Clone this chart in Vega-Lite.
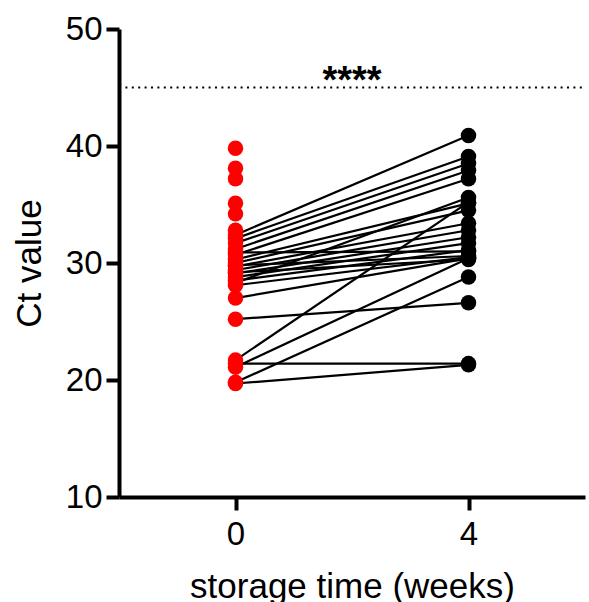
{
  "$schema": "https://vega.github.io/schema/vega-lite/v6.json",
  "width": 466,
  "height": 468,
  "autosize": {"type": "none"},
  "padding": {"left": 119, "top": 29, "right": 4, "bottom": 105},
  "background": "white",
  "config": {
    "view": {"stroke": null},
    "font": "Liberation Sans",
    "axis": {
      "grid": false,
      "domainColor": "black",
      "domainWidth": 4,
      "tickColor": "black",
      "tickWidth": 4,
      "tickSize": 13,
      "labelColor": "black",
      "labelFont": "Liberation Sans",
      "labelFontSize": 33,
      "titleColor": "black",
      "titleFont": "Liberation Sans",
      "titleFontSize": 35,
      "titleFontWeight": "normal"
    }
  },
  "datasets": {
    "ct": [
      {"id": 1, "week": 0, "ct": 32.4}, {"id": 1, "week": 4, "ct": 40.9},
      {"id": 2, "week": 0, "ct": 32.1}, {"id": 2, "week": 4, "ct": 39.1},
      {"id": 3, "week": 0, "ct": 31.7}, {"id": 3, "week": 4, "ct": 38.5},
      {"id": 4, "week": 0, "ct": 31.2}, {"id": 4, "week": 4, "ct": 37.9},
      {"id": 5, "week": 0, "ct": 30.7}, {"id": 5, "week": 4, "ct": 37.2},
      {"id": 6, "week": 0, "ct": 30.3}, {"id": 6, "week": 4, "ct": 35.1},
      {"id": 7, "week": 0, "ct": 30.0}, {"id": 7, "week": 4, "ct": 34.5},
      {"id": 8, "week": 0, "ct": 29.7}, {"id": 8, "week": 4, "ct": 33.4},
      {"id": 9, "week": 0, "ct": 29.4}, {"id": 9, "week": 4, "ct": 32.8},
      {"id": 10, "week": 0, "ct": 29.1}, {"id": 10, "week": 4, "ct": 32.2},
      {"id": 11, "week": 0, "ct": 28.8}, {"id": 11, "week": 4, "ct": 31.7},
      {"id": 12, "week": 0, "ct": 28.5}, {"id": 12, "week": 4, "ct": 31.1},
      {"id": 13, "week": 0, "ct": 28.1}, {"id": 13, "week": 4, "ct": 30.5},
      {"id": 14, "week": 0, "ct": 30.9}, {"id": 14, "week": 4, "ct": 31.0},
      {"id": 15, "week": 0, "ct": 29.8}, {"id": 15, "week": 4, "ct": 30.6},
      {"id": 16, "week": 0, "ct": 29.2}, {"id": 16, "week": 4, "ct": 30.3},
      {"id": 17, "week": 0, "ct": 28.3}, {"id": 17, "week": 4, "ct": 35.6},
      {"id": 18, "week": 0, "ct": 27.0}, {"id": 18, "week": 4, "ct": 30.4},
      {"id": 19, "week": 0, "ct": 25.2}, {"id": 19, "week": 4, "ct": 26.6},
      {"id": 20, "week": 0, "ct": 21.7}, {"id": 20, "week": 4, "ct": 35.2},
      {"id": 21, "week": 0, "ct": 21.4}, {"id": 21, "week": 4, "ct": 21.4},
      {"id": 22, "week": 0, "ct": 21.1}, {"id": 22, "week": 4, "ct": 30.4},
      {"id": 23, "week": 0, "ct": 19.8}, {"id": 23, "week": 4, "ct": 28.8},
      {"id": 24, "week": 0, "ct": 19.7}, {"id": 24, "week": 4, "ct": 21.3},
      {"id": 25, "week": 0, "ct": 39.8},
      {"id": 26, "week": 0, "ct": 38.1},
      {"id": 27, "week": 0, "ct": 37.2},
      {"id": 28, "week": 0, "ct": 35.1},
      {"id": 29, "week": 0, "ct": 34.2},
      {"id": 30, "week": 0, "ct": 32.8}
    ],
    "threshold": [{"x0": -2, "x1": 6, "ct": 45, "mid": 2, "label": "****"}]
  },
  "layer": [
    {
      "data": {"name": "threshold"},
      "mark": {"type": "rule", "color": "black", "strokeWidth": 2, "strokeDash": [2, 4.4]},
      "encoding": {
        "x": {"field": "x0", "type": "quantitative", "scale": {"domain": [-2, 6]}},
        "x2": {"field": "x1"},
        "y": {"field": "ct", "type": "quantitative", "scale": {"domain": [10, 50]}}
      }
    },
    {
      "data": {"name": "threshold"},
      "mark": {"type": "text", "fontSize": 38, "fontWeight": "bold", "color": "black", "baseline": "alphabetic", "dy": 5},
      "encoding": {
        "x": {"field": "mid", "type": "quantitative"},
        "y": {"field": "ct", "type": "quantitative"},
        "text": {"field": "label"}
      }
    },
    {
      "data": {"name": "ct"},
      "mark": {"type": "line", "color": "black", "strokeWidth": 2.2},
      "encoding": {
        "x": {"field": "week", "type": "quantitative"},
        "y": {"field": "ct", "type": "quantitative"},
        "detail": {"field": "id"}
      }
    },
    {
      "data": {"name": "ct"},
      "mark": {"type": "point", "filled": true, "opacity": 1, "size": 240},
      "encoding": {
        "x": {
          "field": "week",
          "type": "quantitative",
          "scale": {"domain": [-2, 6], "nice": false, "zero": false},
          "axis": {"values": [0, 4], "format": "d", "title": "storage time (weeks)", "labelPadding": 8, "titlePadding": 18}
        },
        "y": {
          "field": "ct",
          "type": "quantitative",
          "scale": {"domain": [10, 50], "nice": false, "zero": false},
          "axis": {"values": [10, 20, 30, 40, 50], "title": "Ct value", "labelPadding": 4, "titlePadding": 18}
        },
        "color": {
          "field": "week",
          "type": "nominal",
          "scale": {"domain": [0, 4], "range": ["#ff0000", "#000000"]},
          "legend": null
        }
      }
    }
  ]
}
